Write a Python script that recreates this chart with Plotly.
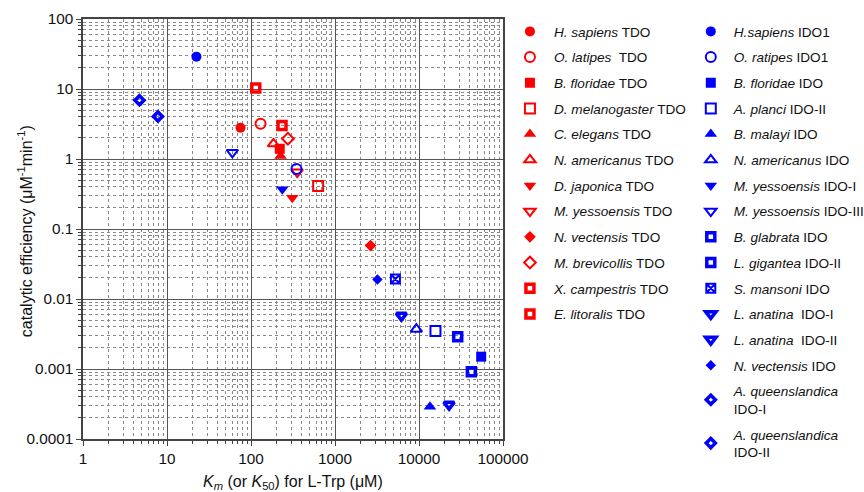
import plotly.graph_objects as go

# ---------------- data ----------------
tdo_names = [
    "<i>H. sapiens</i> TDO", "<i>O. latipes</i>  TDO", "<i>B. floridae</i> TDO",
    "<i>D. melanogaster</i> TDO", "<i>C. elegans</i> TDO", "<i>N. americanus</i> TDO",
    "<i>D. japonica</i> TDO", "<i>M. yessoensis</i> TDO", "<i>N. vectensis</i> TDO",
    "<i>M. brevicollis</i> TDO", "<i>X. campestris</i> TDO", "<i>E. litoralis</i> TDO",
]
tdo_km = [75, 130, 220, 630, 225, 185, 310, 355, 2650, 275, 114, 234]
tdo_eff = [2.8, 3.2, 1.4, 0.41, 1.1, 1.65, 0.28, 0.65, 0.058, 1.95, 10.3, 3.0]

ido_names = [
    "<i>H.sapiens</i> IDO1", "<i>O. ratipes</i> IDO1", "<i>B. floridae</i> IDO",
    "<i>A. planci</i> IDO-II", "<i>B. malayi</i> IDO", "<i>N. americanus</i> IDO",
    "<i>M. yessoensis</i> IDO-I", "<i>M. yessoensis</i> IDO-III", "<i>B. glabrata</i> IDO",
    "<i>L. gigantea</i> IDO-II", "<i>S. mansoni</i> IDO", "<i>L. anatina</i>  IDO-I",
    "<i>L. anatina</i>  IDO-II", "<i>N. vectensis</i> IDO",
    "<i>A. queenslandica</i><br>IDO-I", "<i>A. queenslandica</i><br>IDO-II",
]
ido_km = [22.4, 348, 55000, 15700, 13500, 9300, 236, 60, 28900, 42000, 5240, 6170,
          22800, 3200, 4.7, 7.8]
ido_eff = [29, 0.72, 0.0015, 0.0035, 0.00029, 0.0037, 0.37, 1.24, 0.0029, 0.00091,
           0.0193, 0.0058, 0.00031, 0.019, 6.9, 4.05]

x_tickvals = [1, 10, 100, 1000, 10000, 100000]
x_ticktext = ["1", "10", "100", "1000", "10000", "100000"]
y_tickvals = [0.0001, 0.001, 0.01, 0.1, 1, 10, 100]
y_ticktext = ["0.0001", "0.001", "0.01", "0.1", "1", "10", "100"]

x_title = "<i>K</i><sub><i>m</i></sub> (or <i>K</i><sub>50</sub>) for L-Trp (μM)"
y_title = "catalytic efficiency (μM<sup>-1</sup>min<sup>-1</sup>)"

# ---------------- styles ----------------
RED = "#ff0000"
BLUE = "#0000ff"
# (symbol, size, line width)
tdo_style = [
    ("circle", 10, 0), ("circle-open", 10, 2), ("square", 10, 0), ("square-open", 10, 2),
    ("triangle-up", 11, 0), ("triangle-up-open", 10, 2), ("triangle-down", 11, 0),
    ("triangle-down-open", 10, 2), ("diamond", 9, 0), ("diamond-open", 9, 2),
    ("square-open", 8, 3.5), ("square-open", 8, 3.5),
]
ido_style = [
    ("circle", 10, 0), ("circle-open", 10, 2), ("square", 10, 0), ("square-open", 10, 2),
    ("triangle-up", 11, 0), ("triangle-up-open", 10, 2), ("triangle-down", 11, 0),
    ("triangle-down-open", 10, 2), ("square-open", 8, 3.5), ("square-open", 8, 3.5),
    ("square-x-open", 9, 2), ("triangle-down-open", 9, 3.5), ("triangle-down-open", 9, 3.5),
    ("diamond", 8, 0), ("diamond-open", 7, 3.5), ("diamond-open", 7, 3.5),
]

FONT = "Arial, 'Liberation Sans', sans-serif"

fig = go.Figure()


def add_group(names, xs, ys, styles, color, legend_id, prefix):
    for i, (n, xv, yv, st) in enumerate(zip(names, xs, ys, styles)):
        sym, size, lw = st
        fig.add_trace(go.Scatter(
            x=[xv], y=[yv], mode="markers", name=n,
            legend=legend_id, legendgroup=f"{prefix}{i}",
            marker=dict(symbol=sym, size=size, color=color,
                        line=dict(color=color, width=lw)),
            hoverinfo="name+x+y",
        ))


add_group(tdo_names, tdo_km, tdo_eff, tdo_style, RED, "legend", "t")
add_group(ido_names, ido_km, ido_eff, ido_style, BLUE, "legend2", "i")

minor_x = [m * 10 ** d for d in range(0, 5) for m in range(2, 10)]
minor_y = [m * 10.0 ** d for d in range(-4, 2) for m in range(2, 10)]

axis_common = dict(
    type="log", showline=True, linecolor="#444", linewidth=1.5, mirror=True,
    showgrid=True, gridcolor="#555", gridwidth=1.3,
    ticks="outside", ticklen=5, tickcolor="#444", tickwidth=1,
    tickfont=dict(family=FONT, size=15.3, color="#111"),
    zeroline=False,
)
minor_common = dict(showgrid=True, gridcolor="#888", griddash="dot", gridwidth=1,
                    ticks="outside", ticklen=3, tickcolor="#444")

fig.update_xaxes(
    **axis_common, range=[0, 5], tickmode="array", tickvals=x_tickvals, ticktext=x_ticktext,
    minor=dict(tickmode="array", tickvals=minor_x, **minor_common),
)
fig.update_yaxes(
    **axis_common, range=[-4, 2], tickmode="array", tickvals=y_tickvals, ticktext=y_ticktext,
    minor=dict(tickmode="array", tickvals=minor_y, **minor_common),
)

fig.add_annotation(
    text=x_title, xref="paper", yref="paper", x=0.5, y=0, yshift=-32,
    xanchor="center", yanchor="top", showarrow=False,
    font=dict(family=FONT, size=16, color="#111"),
)
fig.add_annotation(
    text=y_title, xref="paper", yref="paper", x=-0.138, y=0.495, textangle=-90,
    xanchor="center", yanchor="middle", showarrow=False,
    font=dict(family=FONT, size=16, color="#111"),
)

legend_common = dict(
    xanchor="left", yanchor="top", bgcolor="rgba(0,0,0,0)",
    font=dict(family=FONT, size=13.6, color="#111"),
    traceorder="grouped", tracegroupgap=5, maxheight=480,
)

fig.update_layout(
    width=864, height=492,
    margin=dict(l=83, r=361, t=19, b=53, autoexpand=False),
    plot_bgcolor="white", paper_bgcolor="white",
    showlegend=True,
    legend=dict(**legend_common, x=1.007, y=1.007, itemwidth=38),
    legend2=dict(**legend_common, x=1.440, y=1.007, itemwidth=36),
)

fig.write_html("out.html", config={"displayModeBar": False},
               post_script="document.body.style.margin='0px';")
